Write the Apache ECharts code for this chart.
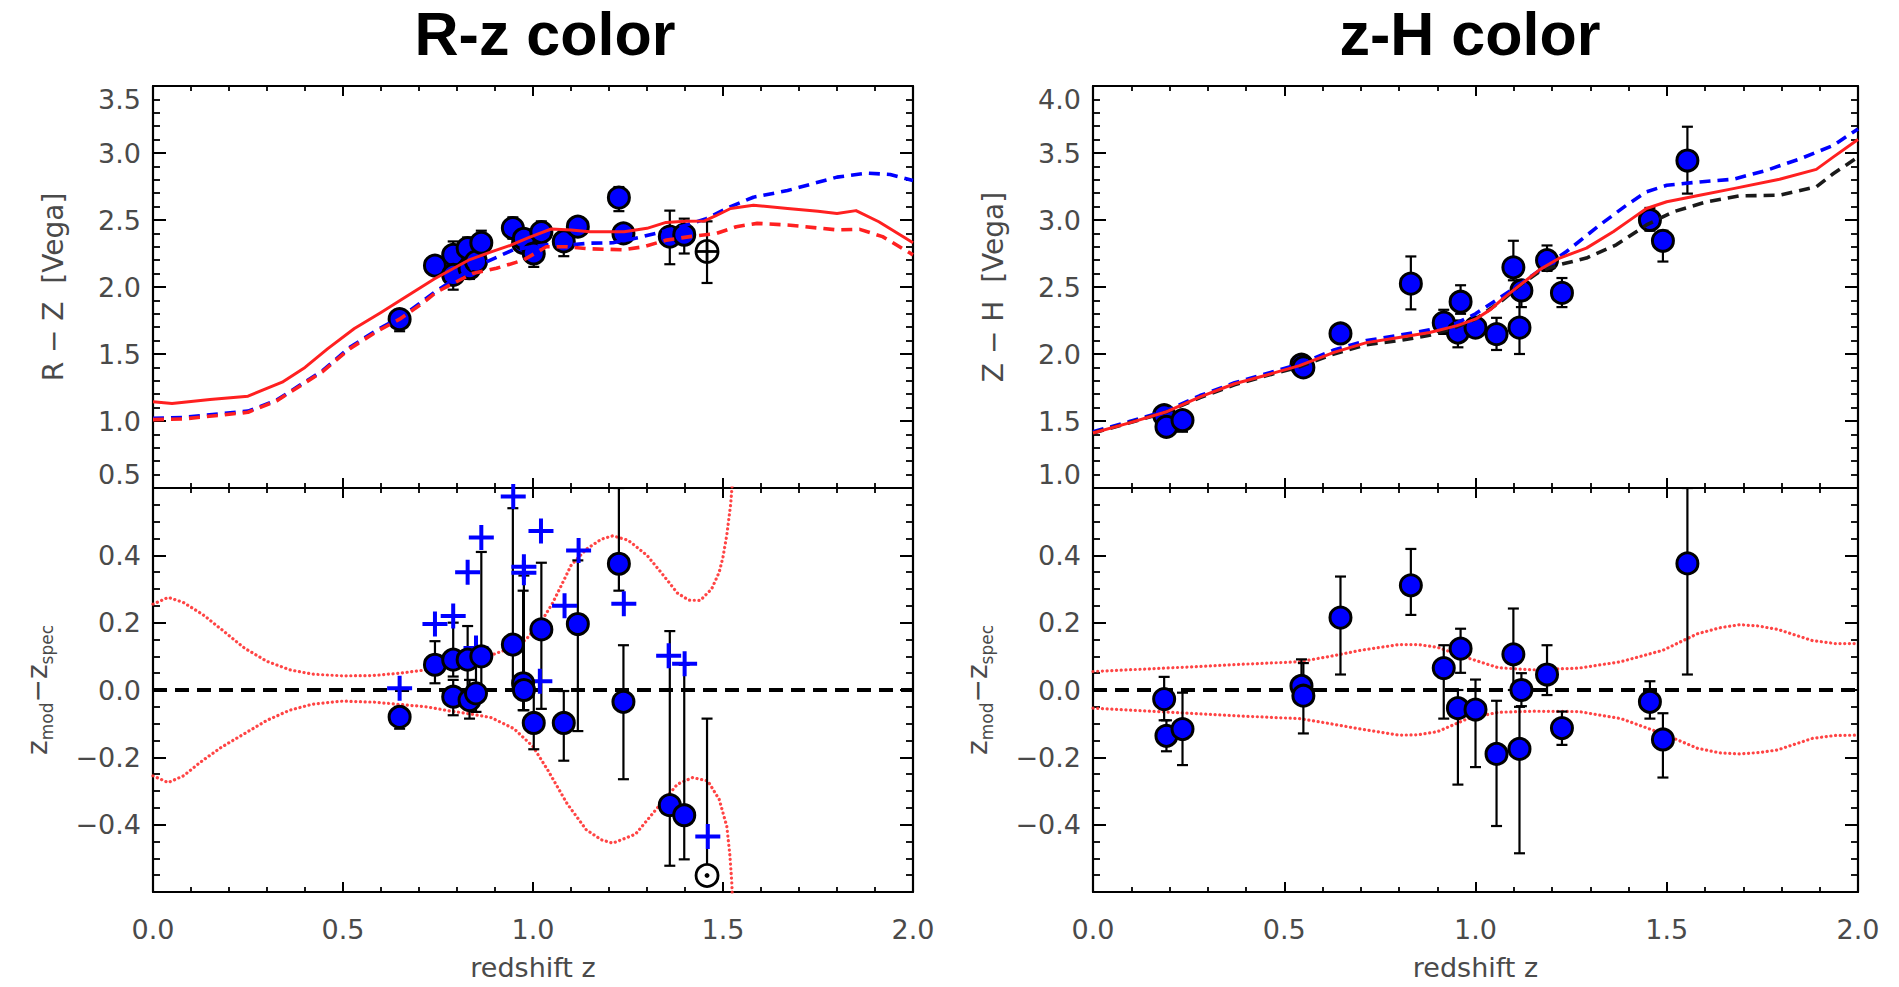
<!DOCTYPE html>
<html>
<head>
<meta charset="utf-8">
<script src="https://cdn.jsdelivr.net/npm/echarts@6/dist/echarts.min.js"></script>
<style>
html,body{margin:0;padding:0;background:#ffffff;}
#chart{width:1899px;height:987px;}
</style>
</head>
<body>
<div id="chart"></div>
<script>
// ================= DATA =================
// Panel titles and axis titles
const panelTitles = ['R-z color', 'z-H color'];
const xAxisTitle = 'redshift z';
const rzAxisTitle = 'R \u2212 Z  [Vega]';
const zhAxisTitle = 'Z \u2212 H  [Vega]';
const dzAxisTitle = '{a|z}{b|mod}{a|\u2212z}{b|spec}';

// Tick labels
const xTickLabels = ['0.0', '0.5', '1.0', '1.5', '2.0'];
const rzTickLabels = ['0.5', '1.0', '1.5', '2.0', '2.5', '3.0', '3.5'];
const zhTickLabels = ['1.0', '1.5', '2.0', '2.5', '3.0', '3.5', '4.0'];
const dzTickLabels = ['\u22120.6', '\u22120.4', '\u22120.2', '0.0', '0.2', '0.4', '0.6'];

// ---- R-z panel: model tracks [z, R-Z] ----
const rzModelSolidRed = [[0,1.143],[0.05,1.13],[0.15,1.16],[0.25,1.185],[0.34,1.29],[0.40,1.40],[0.46,1.54],[0.53,1.69],[0.60,1.81],[0.65,1.90],[0.74,2.06],[0.83,2.20],[0.886,2.258],[0.94,2.31],[0.99,2.37],[1.048,2.433],[1.10,2.425],[1.15,2.413],[1.24,2.413],[1.30,2.438],[1.35,2.482],[1.40,2.49],[1.45,2.492],[1.48,2.53],[1.52,2.586],[1.58,2.61],[1.67,2.586],[1.75,2.565],[1.80,2.549],[1.85,2.57],[1.91,2.487],[2.0,2.33]];
const rzModelDashBlue = [[0,1.02],[0.08,1.027],[0.25,1.074],[0.325,1.155],[0.386,1.266],[0.447,1.377],[0.518,1.55],[0.59,1.68],[0.649,1.77],[0.71,1.895],[0.745,1.97],[0.84,2.14],[0.95,2.28],[1.05,2.32],[1.10,2.315],[1.15,2.327],[1.21,2.33],[1.28,2.37],[1.35,2.42],[1.40,2.46],[1.456,2.51],[1.52,2.6],[1.58,2.67],[1.67,2.72],[1.80,2.82],[1.88,2.85],[1.94,2.84],[2.0,2.795]];
const rzModelDashRed = [[0,1.01],[0.08,1.015],[0.25,1.065],[0.325,1.15],[0.386,1.26],[0.447,1.37],[0.518,1.54],[0.59,1.67],[0.649,1.76],[0.71,1.88],[0.745,1.96],[0.84,2.10],[0.904,2.14],[0.974,2.20],[1.035,2.30],[1.088,2.30],[1.149,2.285],[1.237,2.278],[1.29,2.30],[1.351,2.35],[1.413,2.376],[1.483,2.40],[1.535,2.45],[1.59,2.475],[1.67,2.463],[1.80,2.426],[1.86,2.43],[1.92,2.376],[2.0,2.24]];

// ---- R-z panel: galaxies ----
const rzZ       = [0.649,0.742,0.79,0.79,0.828,0.833,0.85,0.864,0.947,0.974,0.976,1.002,1.022,1.081,1.118,1.226,1.238,1.36,1.398];
const rzColor   = [1.76,2.16,2.24,2.09,2.29,2.14,2.19,2.33,2.44,2.33,2.36,2.25,2.41,2.34,2.45,2.667,2.40,2.376,2.39];
const rzColorLo = [1.67,2.10,2.16,1.98,2.20,2.06,2.12,2.24,2.36,2.28,2.31,2.15,2.33,2.23,2.38,2.566,2.34,2.17,2.25];
const rzColorHi = [1.83,2.22,2.34,2.18,2.37,2.22,2.26,2.42,2.52,2.38,2.41,2.33,2.49,2.42,2.52,2.746,2.46,2.57,2.51];
const rzDz      = [-0.08,0.075,0.09,-0.02,0.09,-0.03,-0.01,0.10,0.135,0.02,0.0,-0.098,0.18,-0.098,0.196,0.375,-0.035,-0.342,-0.372];
const rzDzLo    = [-0.115,0.02,0.04,-0.075,0.0,-0.085,-0.065,-0.02,0.0,-0.06,-0.06,-0.176,-0.056,-0.21,-0.122,0.295,-0.265,-0.522,-0.503];
const rzDzHi    = [-0.05,0.145,0.20,0.03,0.19,0.03,0.12,0.41,0.54,0.295,0.34,0.0,0.378,-0.003,0.385,0.6,0.133,0.175,0.075];
// open symbol (outlier)
const rzOpenZ = [1.458];
const rzOpenColor = [2.265];
const rzOpenColorLo = [2.03];
const rzOpenColorHi = [2.49];
const rzOpenDz = [-0.551];
const rzOpenDzLo = [-0.551];
const rzOpenDzHi = [-0.085];
// blue crosses (alternative photo-z)
const rzCrossZ  = [0.649,0.742,0.79,0.828,0.85,0.864,0.948,0.976,0.976,1.018,1.021,1.083,1.12,1.239,1.357,1.399,1.46];
const rzCrossDz = [0.005,0.196,0.22,0.35,0.125,0.453,0.575,0.366,0.348,0.026,0.472,0.25,0.414,0.256,0.102,0.078,-0.435];
// dotted envelopes [z, dz]
const rzEnvUpper = [[0,0.255],[0.04,0.275],[0.08,0.26],[0.13,0.225],[0.18,0.18],[0.24,0.125],[0.30,0.085],[0.36,0.06],[0.42,0.047],[0.50,0.042],[0.58,0.043],[0.65,0.05],[0.72,0.06],[0.80,0.075],[0.87,0.095],[0.93,0.12],[0.98,0.148],[1.02,0.2],[1.05,0.255],[1.07,0.30],[1.10,0.37],[1.14,0.418],[1.18,0.448],[1.21,0.458],[1.25,0.445],[1.30,0.40],[1.34,0.345],[1.38,0.288],[1.41,0.267],[1.44,0.266],[1.47,0.30],[1.49,0.35],[1.50,0.395],[1.51,0.46],[1.52,0.55],[1.525,0.62]];
const rzEnvLower = [[0,-0.255],[0.04,-0.275],[0.08,-0.255],[0.13,-0.21],[0.18,-0.17],[0.24,-0.13],[0.30,-0.09],[0.36,-0.06],[0.42,-0.042],[0.50,-0.033],[0.58,-0.036],[0.65,-0.043],[0.72,-0.05],[0.78,-0.062],[0.84,-0.072],[0.89,-0.082],[0.95,-0.115],[1.00,-0.168],[1.04,-0.24],[1.09,-0.338],[1.14,-0.415],[1.18,-0.445],[1.21,-0.455],[1.27,-0.428],[1.32,-0.36],[1.38,-0.28],[1.42,-0.26],[1.46,-0.27],[1.49,-0.325],[1.51,-0.405],[1.518,-0.49],[1.523,-0.57],[1.525,-0.62]];

// ---- z-H panel: model tracks [z, Z-H] ----
const zhModelSolidRed = [[0,1.41],[0.1,1.49],[0.19,1.567],[0.28,1.68],[0.37,1.778],[0.45,1.84],[0.54,1.913],[0.63,2.012],[0.715,2.085],[0.80,2.123],[0.88,2.16],[0.95,2.21],[1.0,2.26],[1.04,2.333],[1.07,2.41],[1.107,2.493],[1.168,2.63],[1.22,2.716],[1.29,2.79],[1.36,2.913],[1.41,3.012],[1.447,3.086],[1.50,3.136],[1.586,3.185],[1.674,3.234],[1.795,3.304],[1.891,3.378],[1.935,3.469],[2.0,3.6]];
const zhModelDashBlue = [[0,1.42],[0.1,1.50],[0.19,1.575],[0.28,1.69],[0.37,1.785],[0.45,1.85],[0.54,1.925],[0.63,2.03],[0.715,2.1],[0.80,2.14],[0.88,2.18],[0.95,2.23],[1.0,2.3],[1.064,2.42],[1.177,2.642],[1.238,2.765],[1.325,2.963],[1.395,3.111],[1.447,3.21],[1.5,3.259],[1.586,3.284],[1.674,3.304],[1.76,3.37],[1.848,3.456],[1.935,3.556],[2.0,3.68]];
const zhModelDashBlack = [[0,1.41],[0.1,1.49],[0.19,1.565],[0.28,1.675],[0.37,1.77],[0.45,1.835],[0.54,1.905],[0.63,2.0],[0.715,2.07],[0.80,2.10],[0.88,2.14],[0.95,2.2],[1.0,2.26],[1.07,2.4],[1.12,2.52],[1.17,2.62],[1.22,2.667],[1.29,2.716],[1.368,2.815],[1.447,2.963],[1.517,3.061],[1.604,3.136],[1.691,3.18],[1.795,3.185],[1.891,3.247],[1.935,3.345],[2.0,3.47]];

// ---- z-H panel: galaxies ----
const zhZ       = [0.186,0.192,0.234,0.545,0.55,0.647,0.831,0.917,0.954,0.961,1.0,1.055,1.099,1.115,1.12,1.187,1.226,1.456,1.49,1.554];
const zhColor   = [1.543,1.457,1.506,1.92,1.90,2.153,2.525,2.234,2.16,2.39,2.197,2.148,2.647,2.197,2.474,2.70,2.456,3.0,2.845,3.444];
const zhColorLo = [1.50,1.42,1.42,1.86,1.85,2.10,2.333,2.15,2.05,2.30,2.13,2.03,2.55,2.0,2.35,2.62,2.35,2.92,2.69,3.197];
const zhColorHi = [1.58,1.50,1.55,1.96,1.95,2.20,2.728,2.33,2.25,2.513,2.25,2.27,2.845,2.47,2.55,2.81,2.567,3.09,2.92,3.696];
const zhDz      = [-0.027,-0.136,-0.116,0.012,-0.017,0.215,0.311,0.065,-0.054,0.123,-0.058,-0.19,0.106,-0.175,0.0,0.046,-0.113,-0.035,-0.147,0.376];
const zhDzLo    = [-0.09,-0.182,-0.223,-0.03,-0.129,0.046,0.223,-0.085,-0.281,0.051,-0.229,-0.404,0.0,-0.485,-0.048,-0.015,-0.163,-0.085,-0.26,0.046];
const zhDzHi    = [0.039,-0.09,-0.008,0.091,0.08,0.337,0.419,0.133,0.0,0.182,0.031,-0.032,0.242,-0.05,0.05,0.133,-0.064,0.026,-0.069,0.6];
const zhEnvUpper = [[0,0.055],[0.15,0.063],[0.28,0.07],[0.4,0.077],[0.54,0.084],[0.62,0.1],[0.7,0.118],[0.8,0.135],[0.85,0.135],[0.9,0.127],[0.98,0.095],[1.06,0.066],[1.15,0.06],[1.27,0.065],[1.38,0.084],[1.49,0.118],[1.58,0.167],[1.64,0.185],[1.69,0.194],[1.74,0.19],[1.79,0.18],[1.88,0.147],[1.94,0.138],[2.0,0.138]];
const zhEnvLower = [[0,-0.054],[0.15,-0.063],[0.28,-0.071],[0.4,-0.078],[0.54,-0.085],[0.62,-0.1],[0.7,-0.116],[0.8,-0.134],[0.85,-0.133],[0.9,-0.124],[0.98,-0.085],[1.06,-0.066],[1.15,-0.063],[1.27,-0.064],[1.38,-0.085],[1.49,-0.13],[1.58,-0.173],[1.64,-0.187],[1.69,-0.19],[1.74,-0.186],[1.79,-0.178],[1.88,-0.144],[1.94,-0.135],[2.0,-0.134]];

// zero reference line
const zeroLine = [[0,0],[2,0]];

// ================= STYLE / LAYOUT =================
const FONT = "'DejaVu Sans', 'Liberation Sans', sans-serif";
const LC = '#4a4a4a';
const BLUE = '#0000ff';
const RED = '#ff2020';

const grids = [
  {left:153, top:86, width:760, height:402},
  {left:153, top:488, width:760, height:404},
  {left:1093, top:86, width:765, height:402},
  {left:1093, top:488, width:765, height:404}
];

function frameStyle(len, mlen, split) {
  return {
    axisLine:{show:true, onZero:false, lineStyle:{color:'#000', width:2.2}},
    axisTick:{show:true, inside:true, length:len, lineStyle:{color:'#000', width:2}},
    minorTick:{show:true, splitNumber:split, length:mlen, lineStyle:{color:'#000', width:1.8}},
    splitLine:{show:false},
    minorSplitLine:{show:false}
  };
}

const xAxes = [];
const yAxes = [];
function addX(g, withLabels) {
  xAxes.push(Object.assign({type:'value', gridIndex:g, position:'bottom', min:0, max:2, interval:0.5},
    frameStyle(10, 5, 5), {
      axisLabel:{show:withLabels, margin:24, color:LC, fontFamily:FONT, fontSize:27,
        formatter:v => xTickLabels[Math.round(v / 0.5)]},
      name: withLabels ? xAxisTitle : '', nameLocation:'middle', nameGap:62,
      nameTextStyle:{color:LC, fontFamily:FONT, fontSize:27}
    }));
  xAxes.push(Object.assign({type:'value', gridIndex:g, position:'top', min:0, max:2, interval:0.5},
    frameStyle(10, 5, 5), {axisLabel:{show:false}}));
}
function addY(g, min, max, interval, split, labels, name, nameGap, nameStyle, hideEnds) {
  yAxes.push(Object.assign({type:'value', gridIndex:g, position:'left', min:min, max:max, interval:interval},
    frameStyle(13, 7, split), {
      axisLabel:{margin:12, color:LC, fontFamily:FONT, fontSize:27,
        showMinLabel: !hideEnds, showMaxLabel: !hideEnds,
        verticalAlignMinLabel:'bottom', verticalAlignMaxLabel:'top',
        formatter:v => labels[Math.round((v - min) / interval)]},
      name:name, nameLocation:'middle', nameGap:nameGap, nameTextStyle:nameStyle
    }));
  yAxes.push(Object.assign({type:'value', gridIndex:g, position:'right', min:min, max:max, interval:interval},
    frameStyle(13, 7, split), {axisLabel:{show:false}}));
}

const plainName = {color:LC, fontFamily:FONT, fontSize:28};
const richName = {color:LC, fontFamily:FONT, rich:{
  a:{fontSize:28, fontFamily:FONT, color:LC, lineHeight:36, verticalAlign:'middle'},
  b:{fontSize:17, fontFamily:FONT, color:LC, lineHeight:20, verticalAlign:'bottom'}
}};

addX(0, false); addY(0, 0.5, 3.5, 0.5, 5, rzTickLabels, rzAxisTitle, 86, plainName, false);
addX(1, true);  addY(1, -0.6, 0.6, 0.2, 4, dzTickLabels, dzAxisTitle, 98, richName, true);
addX(2, false); addY(2, 1.0, 4.0, 0.5, 5, zhTickLabels, zhAxisTitle, 86, plainName, false);
addX(3, true);  addY(3, -0.6, 0.6, 0.2, 4, dzTickLabels, dzAxisTitle, 98, richName, true);

// ================= SERIES HELPERS =================
function lineSeries(g, data, color, width, type, z) {
  return {type:'line', xAxisIndex:2*g, yAxisIndex:2*g, data:data, symbol:'none', clip:true,
    silent:true, z:z, animation:false,
    lineStyle:{color:color, width:width, type:type, cap:'butt', join:'round'}};
}
function dottedSeries(g, data, z) {
  return {type:'line', xAxisIndex:2*g, yAxisIndex:2*g, data:data, symbol:'none', clip:true,
    silent:true, z:z, animation:false,
    lineStyle:{color:'#ff3030', width:3.2, type:[0.1, 4.6], cap:'round', opacity:0.9}};
}
function zip3(a, b, c) { return a.map((v, i) => [v, b[i], c[i]]); }
function zip2(a, b) { return a.map((v, i) => [v, b[i]]); }

function errSeries(g, data, z) {
  return {type:'custom', xAxisIndex:2*g, yAxisIndex:2*g, data:data, clip:true, silent:true, z:z,
    animation:false, encode:{x:0, y:[1,2]},
    renderItem:function(params, api) {
      const x = api.value(0);
      const a = api.coord([x, api.value(1)]);
      const b = api.coord([x, api.value(2)]);
      const st = {stroke:'#000', lineWidth:2.2};
      const hw = 5.5;
      return {type:'group', children:[
        {type:'line', shape:{x1:a[0], y1:a[1], x2:b[0], y2:b[1]}, style:st},
        {type:'line', shape:{x1:a[0]-hw, y1:a[1], x2:a[0]+hw, y2:a[1]}, style:st},
        {type:'line', shape:{x1:b[0]-hw, y1:b[1], x2:b[0]+hw, y2:b[1]}, style:st}
      ]};
    }};
}
function dotSeries(g, data, z) {
  return {type:'scatter', xAxisIndex:2*g, yAxisIndex:2*g, data:data, symbol:'circle', symbolSize:21,
    silent:true, z:z, animation:false, clip:true,
    itemStyle:{color:BLUE, borderColor:'#000', borderWidth:3, opacity:1}};
}
const plusPath = 'path://M10.5,0h4v10.5h10.5v4h-10.5v10.5h-4v-10.5h-10.5v-4h10.5z';
function crossSeries(g, data, z) {
  return {type:'scatter', xAxisIndex:2*g, yAxisIndex:2*g, data:data, symbol:plusPath, symbolSize:25,
    silent:true, z:z, animation:false, clip:true,
    itemStyle:{color:BLUE, borderWidth:0, opacity:1}};
}
function openSeries(g, data, mode, z) {
  return {type:'custom', xAxisIndex:2*g, yAxisIndex:2*g, data:data, clip:true, silent:true, z:z,
    animation:false, encode:{x:0, y:1},
    renderItem:function(params, api) {
      const c = api.coord([api.value(0), api.value(1)]);
      const r = 11;
      const ch = [{type:'circle', shape:{cx:c[0], cy:c[1], r:r}, style:{fill:'#ffffff', stroke:'#000', lineWidth:2.8}}];
      if (mode === 'plus') {
        ch.push({type:'line', shape:{x1:c[0]-r, y1:c[1], x2:c[0]+r, y2:c[1]}, style:{stroke:'#000', lineWidth:2.8}});
        ch.push({type:'line', shape:{x1:c[0], y1:c[1]-r, x2:c[0], y2:c[1]+r}, style:{stroke:'#000', lineWidth:2.8}});
      } else {
        ch.push({type:'circle', shape:{cx:c[0], cy:c[1], r:2.4}, style:{fill:'#000'}});
      }
      return {type:'group', children:ch};
    }};
}

const series = [
  // ---- top left: R-z colour ----
  errSeries(0, zip3(rzZ, rzColorLo, rzColorHi), 2),
  errSeries(0, zip3(rzOpenZ, rzOpenColorLo, rzOpenColorHi), 2),
  dotSeries(0, zip2(rzZ, rzColor), 3),
  openSeries(0, zip2(rzOpenZ, rzOpenColor), 'plus', 4),
  lineSeries(0, rzModelDashBlue, BLUE, 3.6, [11, 7], 5),
  lineSeries(0, rzModelDashRed, RED, 3.6, [11, 7], 6),
  lineSeries(0, rzModelSolidRed, RED, 3, 'solid', 7),
  // ---- bottom left: residuals ----
  lineSeries(1, zeroLine, '#000', 4, [14, 8], 1),
  dottedSeries(1, rzEnvUpper, 2),
  dottedSeries(1, rzEnvLower, 2),
  errSeries(1, zip3(rzZ, rzDzLo, rzDzHi), 3),
  errSeries(1, zip3(rzOpenZ, rzOpenDzLo, rzOpenDzHi), 3),
  crossSeries(1, zip2(rzCrossZ, rzCrossDz), 4),
  dotSeries(1, zip2(rzZ, rzDz), 5),
  openSeries(1, zip2(rzOpenZ, rzOpenDz), 'dot', 6),
  // ---- top right: z-H colour ----
  errSeries(2, zip3(zhZ, zhColorLo, zhColorHi), 2),
  dotSeries(2, zip2(zhZ, zhColor), 3),
  lineSeries(2, zhModelDashBlue, BLUE, 3.6, [11, 7], 5),
  lineSeries(2, zhModelDashBlack, '#1a1a1a', 3.6, [11, 7], 6),
  lineSeries(2, zhModelSolidRed, RED, 3, 'solid', 7),
  // ---- bottom right: residuals ----
  lineSeries(3, zeroLine, '#000', 4, [14, 8], 1),
  dottedSeries(3, zhEnvUpper, 2),
  dottedSeries(3, zhEnvLower, 2),
  errSeries(3, zip3(zhZ, zhDzLo, zhDzHi), 3),
  dotSeries(3, zip2(zhZ, zhDz), 5)
];

const chart = echarts.init(document.getElementById('chart'), null, {renderer:'svg', width:1899, height:987});
chart.setOption({
  backgroundColor:'#ffffff',
  animation:false,
  grid:grids,
  xAxis:xAxes,
  yAxis:yAxes,
  graphic:[
    {type:'text', x:545, y:34, silent:true,
      style:{text:panelTitles[0], font:"bold 61px 'Liberation Sans', Arial, sans-serif", fill:'#000', align:'center', verticalAlign:'middle'}},
    {type:'text', x:1470, y:34, silent:true,
      style:{text:panelTitles[1], font:"bold 61px 'Liberation Sans', Arial, sans-serif", fill:'#000', align:'center', verticalAlign:'middle'}}
  ],
  series:series
});
</script>
</body>
</html>
